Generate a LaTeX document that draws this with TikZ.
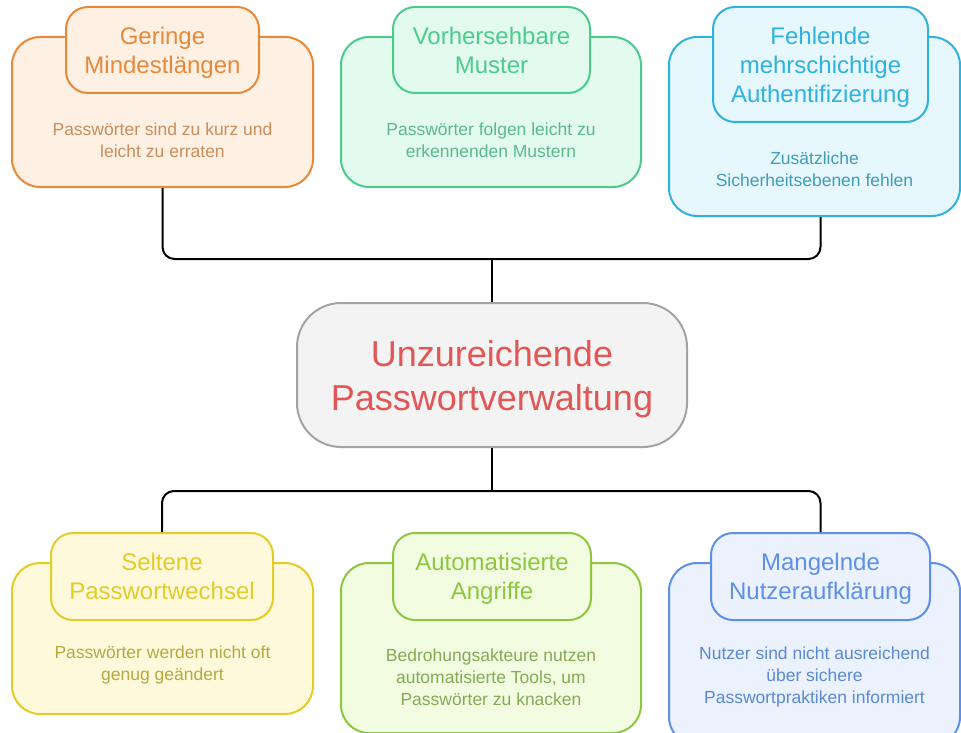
\documentclass[tikz,border=0pt]{standalone}
\usepackage{fontspec}
\setmainfont{Liberation Sans}
\usetikzlibrary{positioning, calc}

\definecolor{orangeline}{HTML}{E8893A}
\definecolor{orangefill}{HTML}{FEF0E2}
\definecolor{orangetext}{HTML}{C98E5E}
\definecolor{greenline}{HTML}{4DCB8D}
\definecolor{greenfill}{HTML}{E2FBEE}
\definecolor{greentext}{HTML}{5DB98B}
\definecolor{cyanline}{HTML}{2EB2DE}
\definecolor{cyanfill}{HTML}{E6F7FD}
\definecolor{cyantext}{HTML}{3F9DBA}
\definecolor{hubline}{HTML}{A3A3A3}
\definecolor{hubfill}{HTML}{F3F3F3}
\definecolor{hubtext}{HTML}{E25656}
\definecolor{yellowline}{HTML}{E3CB29}
\definecolor{yellowfill}{HTML}{FEF9DB}
\definecolor{yellowtext}{HTML}{B7A842}
\definecolor{limeline}{HTML}{8EC640}
\definecolor{limefill}{HTML}{F1FCE1}
\definecolor{limetext}{HTML}{85AB56}
\definecolor{blueline}{HTML}{5E90E8}
\definecolor{bluefill}{HTML}{EBF1FD}
\definecolor{bluetext}{HTML}{5B8AD5}

\begin{document}
\begin{tikzpicture}[
  x=1pt, y=-1pt,
  body/.style={draw, line width=2pt, rounded corners=28pt, inner sep=0pt},
  head/.style={draw, line width=2pt, rounded corners=22pt, align=center,
    inner sep=0pt, font=\fontsize{24}{29}\selectfont, text depth=-4pt},
  desc/.style={align=center, inner sep=0pt, font=\fontsize{17.5}{22}\selectfont},
  hub/.style={draw=hubline, fill=hubfill, line width=2pt, rounded corners=44pt,
    align=center, inner sep=0pt, text=hubtext,
    font=\fontsize{36}{44}\selectfont, text depth=-6pt},
  link/.style={line width=2pt, black, rounded corners=12pt},
]
\useasboundingbox (0,0) rectangle (961,733);
\clip (0,0) rectangle (961,733);

% Top row
\node[body, draw=orangeline, fill=orangefill, minimum width=301pt, minimum height=150pt] (b1) at (162.5,112) {};
\node[head, draw=orangeline, fill=orangefill, text=orangeline, minimum width=193pt, minimum height=86pt] (t1) at (162.5,50) {Geringe\\Mindestlängen};
\node[desc, text=orangetext] (d1) at (162.5,140) {Passwörter sind zu kurz und\\leicht zu erraten};

\node[body, draw=greenline, fill=greenfill, minimum width=300pt, minimum height=150pt] (b2) at (491,112) {};
\node[head, draw=greenline, fill=greenfill, text=greenline, minimum width=197pt, minimum height=86pt] (t2) at (491.5,50) {Vorhersehbare\\Muster};
\node[desc, text=greentext] (d2) at (491,140) {Passwörter folgen leicht zu\\erkennenden Mustern};

\node[body, draw=cyanline, fill=cyanfill, minimum width=291pt, minimum height=179pt] (b3) at (814.5,126.5) {};
\node[head, draw=cyanline, fill=cyanfill, text=cyanline, minimum width=215pt, minimum height=115pt] (t3) at (820.5,64.5) {Fehlende\\mehrschichtige\\Authentifizierung};
\node[desc, text=cyantext] (d3) at (814.5,169) {Zusätzliche\\Sicherheitsebenen fehlen};

% Centre
\node[hub, minimum width=390pt, minimum height=144pt] (hub) at (492,375) {Unzureichende\\Passwortverwaltung};

% Bottom row
\node[body, draw=yellowline, fill=yellowfill, minimum width=301pt, minimum height=151pt] (b4) at (162.5,638.5) {};
\node[head, draw=yellowline, fill=yellowfill, text=yellowline, minimum width=222pt, minimum height=87pt] (t4) at (162,576.5) {Seltene\\Passwortwechsel};
\node[desc, text=yellowtext] (d4) at (162.5,665) {Passwörter werden nicht oft\\genug geändert};

\node[body, draw=limeline, fill=limefill, minimum width=300pt, minimum height=170pt] (b5) at (491,648) {};
\node[head, draw=limeline, fill=limefill, text=limeline, minimum width=198pt, minimum height=87pt] (t5) at (492,576.5) {Automatisierte\\Angriffe};
\node[desc, text=limetext] (d5) at (491,677) {Bedrohungsakteure nutzen\\automatisierte Tools, um\\Passwörter zu knacken};

\node[body, draw=blueline, fill=bluefill, minimum width=291pt, minimum height=182pt] (b6) at (814.5,654) {};
\node[head, draw=blueline, fill=bluefill, text=blueline, minimum width=219pt, minimum height=87pt] (t6) at (820.5,576.5) {Mangelnde\\Nutzeraufklärung};
\node[desc, text=bluetext] (d6) at (814.5,677) {Nutzer sind nicht ausreichend\\über sichere\\Passwortpraktiken informiert};

% Connectors
\coordinate (topjoin) at ($(hub.north)+(0,-43)$);
\coordinate (botjoin) at ($(hub.south)+(0,43)$);
\draw[link] (b1.south) |- (topjoin) -| (t3 |- b3.south);
\draw[link] (topjoin) -- (hub.north);
\draw[link] (hub.south) -- (botjoin);
\draw[link] (t4.north) |- (botjoin) -| (t6.north);

\end{tikzpicture}
\end{document}
